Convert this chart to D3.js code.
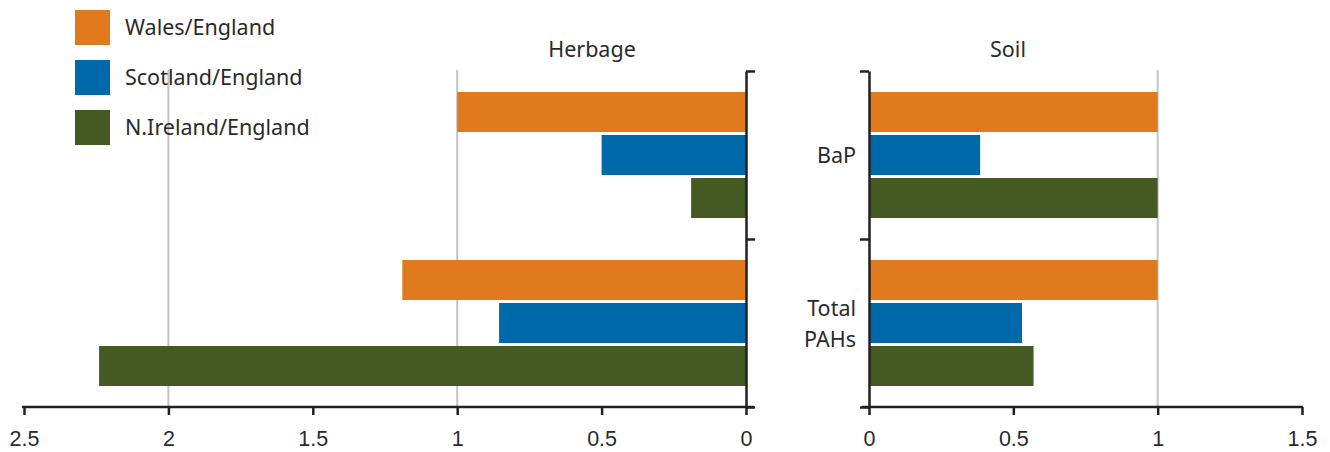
<!DOCTYPE html>
<html><head><meta charset="utf-8">
<script src="https://cdn.jsdelivr.net/npm/d3@7"></script>
<style>
body{margin:0;background:#fff;}
svg{display:block;font-family:"Noto Sans",sans-serif;}
</style></head>
<body><svg id="c" width="1330" height="452"></svg>
<script>
const categories = ["BaP", "Total PAHs"];
const series = ["Wales/England", "Scotland/England", "N.Ireland/England"];
const colors = ["#e07a1e", "#0069aa", "#455a23"];
const herbage = [[1.0, 0.50, 0.19], [1.19, 0.855, 2.24]];
const soil = [[1.0, 0.385, 1.0], [1.0, 0.53, 0.57]];
const herbageTicks = [2.5, 2, 1.5, 1, 0.5, 0];
const soilTicks = [0, 0.5, 1, 1.5];
const herbageGrid = [2, 1];
const soilGrid = [1];

const svg = d3.select("#c");
const axisColor = "#231f20";
const gridColor = "#c4c4c8";
const textColor = "#2a2a2a";
const fs = 21.5;
const plotTop = 71, plotBottom = 407;

const y0 = d3.scaleBand().domain(categories).range([plotTop, plotBottom]);
const y1 = d3.scaleBand().domain(series).range([21, 147]).paddingInner(0.07);
const yEdge = d3.scaleLinear().domain([0, categories.length]).range([plotBottom, plotTop]);

const xL = d3.scaleLinear().domain([2.5, 0]).range([24, 746]);
const xR = d3.scaleLinear().domain([0, 1.5]).range([869, 1302]);

function panel(x, data, grid, ticks, title, titleX, side) {
  const g = svg.append("g");
  g.selectAll("line.grid").data(grid).join("line")
    .attr("x1", d => x(d)).attr("x2", d => x(d))
    .attr("y1", plotTop - 1).attr("y2", plotBottom)
    .attr("stroke", gridColor).attr("stroke-width", 2);
  categories.forEach((c, ci) => {
    g.selectAll(null).data(data[ci]).join("rect")
      .attr("x", d => Math.min(x(0), x(d)))
      .attr("width", d => Math.abs(x(d) - x(0)))
      .attr("y", (d, i) => y0(c) + y1(series[i]))
      .attr("height", y1.bandwidth())
      .attr("fill", (d, i) => colors[i]);
  });
  const xa = g.append("g").attr("transform", `translate(0,${plotBottom})`)
    .call(d3.axisBottom(x).tickValues(ticks).tickSize(8).tickSizeOuter(0).tickPadding(16)
      .tickFormat(d3.format("")));
  xa.select(".domain").remove();
  xa.selectAll(".tick line").attr("stroke", axisColor).attr("stroke-width", 2.5);
  xa.selectAll(".tick text").attr("fill", textColor).attr("font-size", fs);
  const r = x.range();
  const lo = Math.min(r[0], r[1]), hi = Math.max(r[0], r[1]);
  g.append("line").attr("x1", side === "left" ? lo - 2 : lo - 7)
    .attr("x2", side === "left" ? hi + 8 : hi + 1)
    .attr("y1", plotBottom).attr("y2", plotBottom)
    .attr("stroke", axisColor).attr("stroke-width", 2.5);
  const ya = g.append("g").attr("transform", `translate(${x(0)},0)`)
    .call((side === "left" ? d3.axisRight(yEdge) : d3.axisLeft(yEdge))
      .tickValues([0, 1, 2]).tickSize(9).tickSizeOuter(0).tickFormat(""));
  ya.select(".domain").attr("stroke", axisColor).attr("stroke-width", 2.5);
  ya.selectAll(".tick line").attr("stroke", axisColor).attr("stroke-width", 2.5);
  g.append("text").attr("x", titleX).attr("y", 57).attr("text-anchor", "middle")
    .attr("font-size", fs).attr("fill", textColor).text(title);
}

panel(xL, herbage, herbageGrid, herbageTicks, "Herbage", 592, "left");
panel(xR, soil, soilGrid, soilTicks, "Soil", 1008, "right");

// category labels
const catLines = [["BaP"], ["Total", "PAHs"]];
categories.forEach((c, ci) => {
  const lines = catLines[ci];
  const cy = y0(c) + y0.bandwidth() / 2;
  lines.forEach((t, li) => {
    svg.append("text").attr("x", 856)
      .attr("y", cy + 8 + (li - (lines.length - 1) / 2) * 31)
      .attr("text-anchor", "end").attr("font-size", fs).attr("fill", textColor).text(t);
  });
});

// legend
const lg = svg.append("g");
series.forEach((s, i) => {
  lg.append("rect").attr("x", 75).attr("y", 10 + i * 50).attr("width", 35).attr("height", 35)
    .attr("fill", colors[i]);
  lg.append("text").attr("x", 125).attr("y", 35 + i * 50).attr("font-size", fs)
    .attr("fill", textColor).text(s);
});
</script></body></html>
